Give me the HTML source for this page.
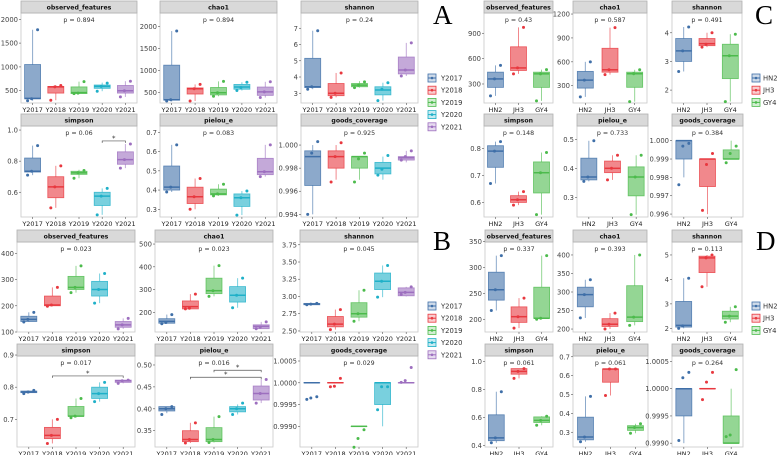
<!DOCTYPE html>
<html><head><meta charset="utf-8"><style>
html,body{margin:0;padding:0;background:#fff;}
svg{display:block;font-family:"DejaVu Sans","Liberation Sans",sans-serif;}
</style></head><body>
<svg id="fig" width="783" height="455" viewBox="0 0 783 455" xmlns="http://www.w3.org/2000/svg"></svg>
<script>
// ---------- data ----------
const catsYear = ['Y2017','Y2018','Y2019','Y2020','Y2021'];
const catsSite = ['HN2','JH3','GY4'];
// box stats: [q1, median, q3, whiskerLow, whiskerHigh]
const aObsBox=[[330,340,1050,290,1780],[450,580,590,300,620],[440,460,580,430,690],[550,590,620,490,670],[450,500,610,370,700]];
const aObsPts=[[1780,330,290],[610,580,300],[690,450,440],[660,590,490],[700,500,370]];
const aChaoBox=[[320,330,1120,290,1900],[460,580,600,300,680],[440,490,610,410,750],[570,620,680,540,730],[430,510,620,380,740]];
const aChaoPts=[[1900,330,300],[680,580,300],[750,490,410],[730,610,540],[740,510,380]];
const aShanBox=[[3.35,3.4,5.15,3.25,6.85],[2.85,3.0,3.6,2.75,4.25],[3.4,3.5,3.6,3.35,3.75],[2.9,3.2,3.4,2.55,3.65],[4.19,4.43,5.23,4.06,6.1]];
const aShanPts=[[6.85,3.4,3.25],[4.25,3.0,2.75],[3.7,3.5,3.35],[3.65,3.25,2.55],[6.1,4.43,4.06]];
const aSimpBox=[[0.73,0.735,0.82,0.71,0.9],[0.565,0.635,0.7,0.5,0.77],[0.715,0.725,0.735,0.69,0.745],[0.515,0.575,0.6,0.455,0.625],[0.78,0.81,0.86,0.755,0.91]];
const aSimpPts=[[0.9,0.735,0.71],[0.77,0.635,0.5],[0.74,0.725,0.69],[0.625,0.575,0.455],[0.91,0.81,0.755]];
const aPielBox=[[0.4,0.415,0.525,0.39,0.635],[0.33,0.365,0.415,0.3,0.46],[0.375,0.38,0.405,0.37,0.43],[0.315,0.36,0.38,0.27,0.395],[0.48,0.495,0.565,0.47,0.635]];
const aPielPts=[[0.635,0.415,0.39],[0.46,0.365,0.3],[0.43,0.38,0.37],[0.395,0.36,0.27],[0.635,0.495,0.47]];
const aGoodBox=[[0.9965,0.999,0.9995,0.994,1.0],[0.998,0.999,0.9995,0.997,1.0],[0.998,0.999,0.999,0.997,0.999],[0.9975,0.998,0.9985,0.997,0.999],[0.9987,0.9989,0.999,0.9985,0.9995]];
const aGoodPts=[[1.0003,0.9993,0.994],[1.0002,0.999,0.9968],[0.9993,0.9988,0.9968],[0.9991,0.9979,0.9974],[0.9995,0.999,0.9987]];

const cObsBox=[[260,360,440,160,520],[460,490,740,420,970],[260,420,440,100,470]];
const cObsPts=[[520,360,160],[970,490,420],[470,420,100]];
const cChaoBox=[[270,370,480,160,600],[470,500,770,440,1030],[280,450,470,100,500]];
const cChaoPts=[[600,370,160],[1030,500,440],[500,450,100]];
const cShanBox=[[3.0,3.37,3.8,2.65,4.2],[3.55,3.62,3.8,3.5,4.0],[2.4,3.2,3.6,1.6,3.95]];
const cShanPts=[[4.2,3.37,2.65],[4.0,3.6,3.5],[3.95,3.2,1.6]];
const cSimpBox=[[0.73,0.79,0.81,0.67,0.825],[0.6,0.61,0.625,0.59,0.64],[0.635,0.71,0.75,0.555,0.785]];
const cSimpPts=[[0.825,0.79,0.67],[0.64,0.61,0.59],[0.785,0.71,0.555]];
const cPielBox=[[0.36,0.37,0.435,0.355,0.495],[0.385,0.4,0.425,0.36,0.445],[0.305,0.37,0.405,0.24,0.445]];
const cPielPts=[[0.495,0.37,0.355],[0.445,0.4,0.36],[0.445,0.37,0.24]];
const cGoodBox=[[0.999,1.0,1.0,0.998,1.0],[0.9975,0.999,0.999,0.996,0.999],[0.999,0.999,0.9995,0.999,1.0]];
const cGoodPts=[[0.99985,0.9997,0.9976],[0.9993,0.9987,0.9962],[0.9997,0.9993,0.9988]];

const bObsBox=[[140,148,160,138,175],[200,203,237,198,270],[262,270,312,250,352],[237,262,293,210,323],[118,127,140,112,152]];
const bObsPts=[[175,148,138],[270,203,198],[352,270,250],[323,262,210],[152,127,112]];
const bChaoBox=[[152,160,172,150,190],[215,225,250,215,280],[282,295,350,270,405],[245,275,313,220,350],[128,138,145,128,158]];
const bChaoPts=[[190,155,150],[280,218,215],[405,295,270],[350,275,220],[158,135,128]];
const bShanBox=[[2.88,2.89,2.9,2.88,2.9],[2.56,2.6,2.71,2.52,2.81],[2.7,2.75,2.91,2.64,3.09],[3.1,3.22,3.34,2.99,3.45],[3.01,3.06,3.125,3.0,3.14]];
const bShanPts=[[2.9,2.89,2.88],[2.81,2.6,2.52],[3.09,2.75,2.64],[3.45,3.22,2.99],[3.14,3.06,3.03]];
const bSimpBox=[[0.783,0.785,0.788,0.78,0.79],[0.64,0.65,0.675,0.625,0.7],[0.71,0.71,0.74,0.705,0.765],[0.765,0.78,0.8,0.755,0.815],[0.815,0.82,0.822,0.812,0.822]];
const bSimpPts=[[0.79,0.785,0.78],[0.7,0.65,0.625],[0.765,0.71,0.705],[0.815,0.78,0.755],[0.822,0.82,0.812]];
const bPielBox=[[0.395,0.4,0.405,0.39,0.405],[0.325,0.33,0.35,0.322,0.368],[0.325,0.33,0.357,0.323,0.382],[0.393,0.4,0.405,0.387,0.41],[0.42,0.435,0.452,0.413,0.467]];
const bPielPts=[[0.405,0.4,0.387],[0.368,0.33,0.322],[0.382,0.33,0.323],[0.413,0.4,0.387],[0.467,0.435,0.413]];
const bGoodBox=[[1.0,1.0,1.0,1.0,1.0],[1.0,1.0,1.0,1.0,1.0],[0.999,0.999,0.999,0.999,0.999],[0.9995,1.0,1.0,0.999,1.0],[1.0,1.0,1.0,1.0,1.0]];
const bGoodPts=[[0.99968,0.99965,0.99962],[1.0001,0.99992,0.99991],[0.99892,0.99872,0.99852],[0.99991,0.99991,0.99938],[1.00035,1.00005,1.00001]];

const dObsBox=[[237,257,291,217,323],[194,205,224,183,241],[202,202,262,200,323]];
const dObsPts=[[323,257,217],[241,205,183],[323,202,200]];
const dChaoBox=[[260,293,313,230,333],[207,213,228,200,243],[220,232,317,210,400]];
const dChaoPts=[[333,293,230],[243,213,200],[400,232,210]];
const dShanBox=[[2.05,2.12,3.1,2.0,4.05],[4.28,4.88,4.95,3.7,5.0],[2.38,2.5,2.7,2.25,2.88]];
const dShanPts=[[4.05,2.1,2.0],[5.0,4.88,3.7],[2.88,2.5,2.25]];
const dSimpBox=[[0.435,0.455,0.62,0.42,0.785],[0.91,0.93,0.95,0.88,0.95],[0.565,0.58,0.605,0.545,0.61]];
const dSimpPts=[[0.785,0.455,0.42],[0.95,0.93,0.88],[0.61,0.58,0.545]];
const dPielBox=[[0.26,0.275,0.38,0.25,0.49],[0.565,0.635,0.635,0.495,0.635],[0.31,0.325,0.335,0.295,0.345]];
const dPielPts=[[0.49,0.275,0.25],[0.635,0.635,0.495],[0.345,0.325,0.295]];
const dGoodBox=[[0.9995,1.0,1.0,0.999,1.0],[1.0,1.0,1.0,1.0,1.0],[0.999,0.999,0.9995,0.999,1.0]];
const dGoodPts=[[1.0003,1.0002,0.99905],[1.0003,1.00012,0.9998],[1.00035,0.99915,0.99912]];

// tick labels
const tA1=['500','1000','1500','2000'], tA3=['3','4','5','6','7'], tA4=['0.6','0.8','1.0'], tA5=['0.3','0.4','0.5','0.6','0.7'], tA6=['0.994','0.996','0.998','1.000'];
const tC1=['300','600','900'], tC2=['300','600','900','1200'], tC3=['2','3','4'], tC4=['0.6','0.7','0.8'], tC5=['0.3','0.4','0.5'], tC6=['0.996','0.997','0.998','0.999','1.000'];
const tB1=['100','200','300','400'], tB2=['200','300','400','500'], tB3=['2.50','2.75','3.00','3.25','3.50','3.75'], tB4=['0.7','0.8','0.9'], tB5=['0.35','0.40','0.45','0.50'], tB6=['0.9990','0.9995','1.0000','1.0005'];
const tD1=['200','250','300','350'], tD2=['200','250','300','350','400'], tD3=['2','3','4','5'], tD4=['0.4','0.6','0.8','1.0'], tD5=['0.3','0.4','0.5','0.6','0.7'], tD6=['0.9990','0.9995','1.0000','1.0005'];

// significance brackets [fromCat, toCat, value]
const aSimpSig=[[3,4,0.93]];
const bSimpSig=[[1,4,0.835]];
const bPielSig=[[1,4,0.472],[2,4,0.488]];

const colsYear=['#3f6fa8','#e8383f','#4cbb4c','#1fb0c8','#9d6fbf'];
const colsSite=['#3f6fa8','#e8383f','#4cbb4c'];

// ---------- layout ----------
const R1=[13,103], R2=[126,217], R3=[242,332], R4=[356,447];
const panels=[
 {id:'a-observed-features',t:'observed_features',p:'0.894',x:[21,137],y:R1,d:[242,2132],tk:tA1,b:aObsBox,pt:aObsPts,c:catsYear,col:colsYear},
 {id:'a-chao1',t:'chao1',p:'0.894',x:[160,277],y:R1,d:[255,2313],tk:tA1,b:aChaoBox,pt:aChaoPts,c:catsYear,col:colsYear},
 {id:'a-shannon',t:'shannon',p:'0.24',x:[301,418],y:R1,d:[2.40,7.94],tk:tA3,b:aShanBox,pt:aShanPts,c:catsYear,col:colsYear},
 {id:'a-simpson',t:'simpson',p:'0.06',x:[21,137],y:R2,d:[0.441,1.026],tk:tA4,b:aSimpBox,pt:aSimpPts,c:catsYear,col:colsYear,sig:aSimpSig},
 {id:'a-pielou',t:'pielou_e',p:'0.083',x:[160,277],y:R2,d:[0.26,0.733],tk:tA5,b:aPielBox,pt:aPielPts,c:catsYear,col:colsYear},
 {id:'a-goods-coverage',t:'goods_coverage',p:'0.925',x:[301,418],y:R2,d:[0.99377,1.00165],tk:tA6,b:aGoodBox,pt:aGoodPts,c:catsYear,col:colsYear},
 {id:'c-observed-features',t:'observed_features',p:'0.43',x:[484,553],y:R1,d:[75,1140],tk:tC1,b:cObsBox,pt:cObsPts,c:catsSite,col:colsSite},
 {id:'c-chao1',t:'chao1',p:'0.587',x:[573,647],y:R1,d:[83,1213],tk:tC2,b:cChaoBox,pt:cChaoPts,c:catsSite,col:colsSite},
 {id:'c-shannon',t:'shannon',p:'0.491',x:[672,742],y:R1,d:[1.55,4.69],tk:tC3,b:cShanBox,pt:cShanPts,c:catsSite,col:colsSite},
 {id:'c-simpson',t:'simpson',p:'0.148',x:[484,553],y:R2,d:[0.546,0.883],tk:tC4,b:cSimpBox,pt:cSimpPts,c:catsSite,col:colsSite},
 {id:'c-pielou',t:'pielou_e',p:'0.733',x:[577,648],y:R2,d:[0.232,0.546],tk:tC5,b:cPielBox,pt:cPielPts,c:catsSite,col:colsSite},
 {id:'c-goods-coverage',t:'goods_coverage',p:'0.384',x:[672,743],y:R2,d:[0.99584,1.0008],tk:tC6,b:cGoodBox,pt:cGoodPts,c:catsSite,col:colsSite},
 {id:'b-observed-features',t:'observed_features',p:'0.023',x:[17,135],y:R3,d:[100,443],tk:tB1,b:bObsBox,pt:bObsPts,c:catsYear,col:colsYear},
 {id:'b-chao1',t:'chao1',p:'0.023',x:[155,273],y:R3,d:[113.5,509],tk:tB2,b:bChaoBox,pt:bChaoPts,c:catsYear,col:colsYear},
 {id:'b-shannon',t:'shannon',p:'0.045',x:[300,418],y:R3,d:[2.485,3.79],tk:tB3,b:bShanBox,pt:bShanPts,c:catsYear,col:colsYear},
 {id:'b-simpson',t:'simpson',p:'0.017',x:[17,135],y:R4,d:[0.614,0.897],tk:tB4,b:bSimpBox,pt:bSimpPts,c:catsYear,col:colsYear,sig:bSimpSig},
 {id:'b-pielou',t:'pielou_e',p:'0.016',x:[155,273],y:R4,d:[0.3128,0.5205],tk:tB5,b:bPielBox,pt:bPielPts,c:catsYear,col:colsYear,sig:bPielSig},
 {id:'b-goods-coverage',t:'goods_coverage',p:'0.029',x:[300,418],y:R4,d:[0.998525,1.000615],tk:tB6,b:bGoodBox,pt:bGoodPts,c:catsYear,col:colsYear},
 {id:'d-observed-features',t:'observed_features',p:'0.337',x:[485,553],y:R3,d:[175.4,349.4],tk:tD1,b:dObsBox,pt:dObsPts,c:catsSite,col:colsSite},
 {id:'d-chao1',t:'chao1',p:'0.393',x:[573,647],y:R3,d:[192,435],tk:tD2,b:dChaoBox,pt:dChaoPts,c:catsSite,col:colsSite},
 {id:'d-shannon',t:'shannon',p:'0.113',x:[672,742],y:R3,d:[1.85,5.53],tk:tD3,b:dShanBox,pt:dShanPts,c:catsSite,col:colsSite},
 {id:'d-simpson',t:'simpson',p:'0.061',x:[485,553],y:R4,d:[0.39,1.04],tk:tD4,b:dSimpBox,pt:dSimpPts,c:catsSite,col:colsSite},
 {id:'d-pielou',t:'pielou_e',p:'0.061',x:[573,648],y:R4,d:[0.222,0.704],tk:tD5,b:dPielBox,pt:dPielPts,c:catsSite,col:colsSite},
 {id:'d-goods-coverage',t:'goods_coverage',p:'0.264',x:[672,743],y:R4,d:[0.99893,1.0006],tk:tD6,b:dGoodBox,pt:dGoodPts,c:catsSite,col:colsSite}
];
const jitter=[5,-1,-5];

const NS='http://www.w3.org/2000/svg';
const svg=document.getElementById('fig');
function mk(tag,attrs,parent,txt){const e=document.createElementNS(NS,tag);for(const k in attrs)e.setAttribute(k,attrs[k]);if(txt!==undefined)e.textContent=txt;(parent||svg).appendChild(e);return e;}

panels.forEach(P=>{
  const g=mk('g',{});
  
  
  const [x0,x1]=P.x,[y0,y1]=P.y;
  const ys=v=>y1-(v-P.d[0])/(P.d[1]-P.d[0])*(y1-y0);
  const n=P.c.length, step=(x1-x0)/n;
  const xs=i=>x0+step*(i+0.5);
  const bw=Math.min(16,step*0.7);
  mk('rect',{x:x0,y:y0,width:x1-x0,height:y1-y0,fill:'#fff',stroke:'#c8c8c8','stroke-width':0.8},g);
  const st=mk('rect',{x:x0,y:y0-12,width:x1-x0,height:12,fill:'#d9d9d9',stroke:'#b0b0b0','stroke-width':0.8},g);
  
  
  mk('text',{x:(x0+x1)/2,y:y0-3.5,'text-anchor':'middle','font-size':6.2,'font-weight':'bold',fill:'#111'},g,P.t);
  mk('text',{x:(x0+x1)/2,y:y0+9,'text-anchor':'middle','font-size':6.3,fill:'#333'},g,'p = '+P.p);
  P.tk.forEach(t=>{const v=parseFloat(t),y=ys(v);
    mk('line',{x1:x0-2,x2:x0,y1:y,y2:y,stroke:'#555','stroke-width':0.6},g);
    mk('text',{x:x0-3,y:y+2.5,'text-anchor':'end','font-size':6.8,fill:'#444'},g,t);});
  P.c.forEach((c,i)=>{
    mk('line',{x1:xs(i),x2:xs(i),y1:y1,y2:y1+2,stroke:'#555','stroke-width':0.6},g);
    mk('text',{x:xs(i),y:y1+9,'text-anchor':'middle','font-size':6.5,fill:'#222'},g,c);
    const [q1,md,q3,lo,hi]=P.b[i], col=P.col[i];
    const bg=mk('g',{},g);
    
    
    mk('line',{x1:xs(i),x2:xs(i),y1:ys(hi),y2:ys(q3),stroke:col,'stroke-opacity':0.6,'stroke-width':1},bg);
    mk('line',{x1:xs(i),x2:xs(i),y1:ys(q1),y2:ys(lo),stroke:col,'stroke-opacity':0.6,'stroke-width':1},bg);
    mk('rect',{x:xs(i)-bw/2,y:ys(q3),width:bw,height:Math.max(0.01,ys(q1)-ys(q3)),fill:col,'fill-opacity':0.6,stroke:col,'stroke-opacity':0.8,'stroke-width':0.8},bg);
    mk('line',{x1:xs(i)-bw/2,x2:xs(i)+bw/2,y1:ys(md),y2:ys(md),stroke:col,'stroke-width':1.5},bg);
    P.pt[i].forEach((v,k)=>{
      const dot=mk('circle',{cx:xs(i)+jitter[k],cy:ys(v),r:1.5,fill:col},bg);
      
      
    });
  });
  (P.sig||[]).forEach(s=>{
    const y=ys(s[2]);
    const sg=mk('g',{},g);
    
    
    mk('path',{d:`M${xs(s[0])},${y+2}V${y}H${xs(s[1])}V${y+2}`,fill:'none',stroke:'#555','stroke-width':0.7},sg);
    mk('text',{x:(xs(s[0])+xs(s[1]))/2,y:y-0.5,'text-anchor':'middle','font-size':7,fill:'#333'},sg,'*');
  });
});

// letters & legends
const letters=[['A',433,24],['C',755,24],['B',433,250],['D',756,250]];
letters.forEach(l=>{const t=mk('text',{x:l[1],y:l[2],'font-size':27,'font-family':'Liberation Serif,serif',fill:'#000'},svg,l[0]);
  
  });
function legend(x,y,cats,cols,name,gap){
  const g=mk('g',{});
  
  
  cats.forEach((c,i)=>{const yy=y+i*12.2;
    mk('rect',{x:x,y:yy-4,width:8,height:8,fill:cols[i],'fill-opacity':0.25,stroke:cols[i],'stroke-width':0.8},g);
    mk('line',{x1:x,x2:x+8,y1:yy,y2:yy,stroke:cols[i],'stroke-width':1},g);
    mk('circle',{cx:x+4,cy:yy,r:1.3,fill:cols[i]},g);
    mk('text',{x:x+gap,y:yy+2.5,'font-size':6.8,fill:'#333'},g,c);});
}
legend(428,78,catsYear,colsYear,'legend-a',13);
legend(428,306,catsYear,colsYear,'legend-b',13);
legend(752,78,catsSite,colsSite,'legend-c',11);
legend(752,306,catsSite,colsSite,'legend-d',11);
</script>
</body></html>
